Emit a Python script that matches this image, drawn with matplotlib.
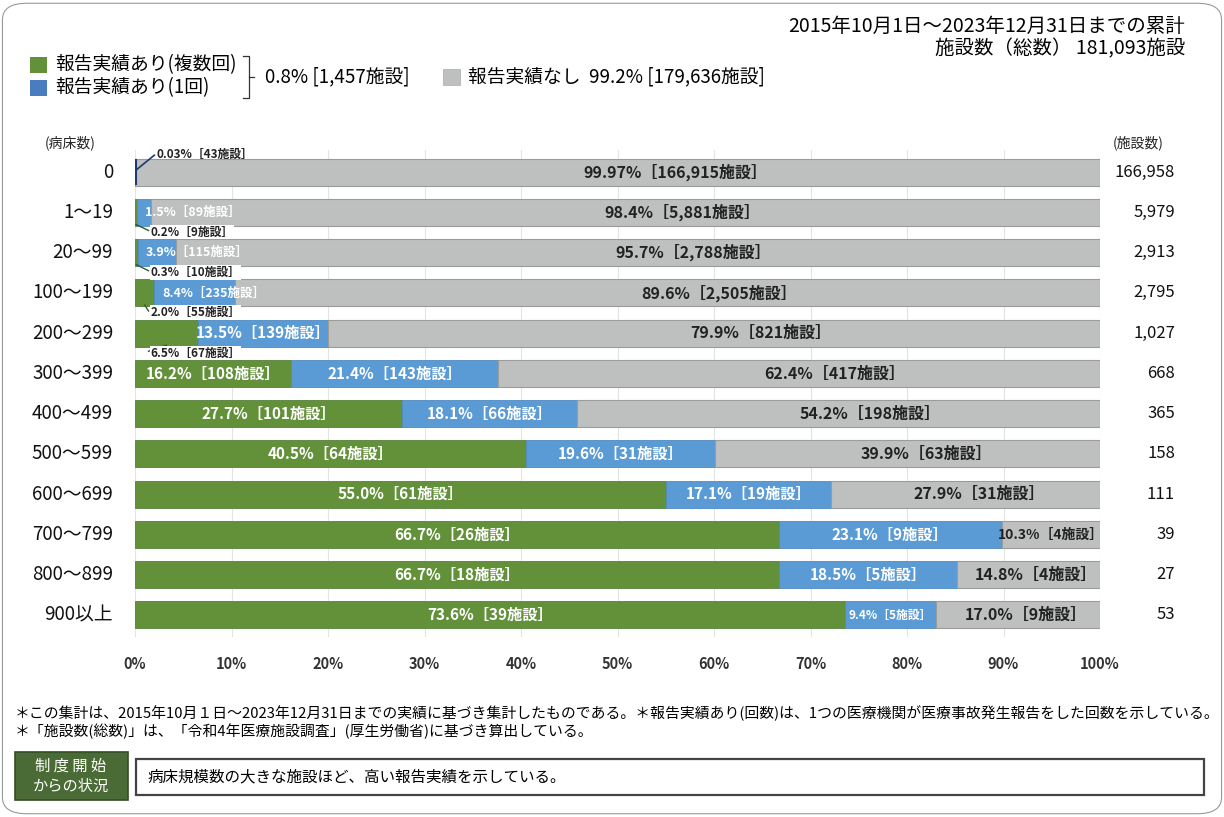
import numpy as np
import matplotlib.pyplot as plt
from matplotlib.patches import FancyBboxPatch, Rectangle

plt.rcParams['font.family'] = ['Noto Sans CJK JP', 'DejaVu Sans']

beds = ["0", "1～19", "20～99", "100～199", "200～299", "300～399", "400～499",
        "500～599", "600～699", "700～799", "800～899", "900以上"]
multi_pct = [0.0, 0.2, 0.3, 2.0, 6.5, 16.2, 27.7, 40.5, 55.0, 66.7, 66.7, 73.6]
multi_n = [0, 9, 10, 55, 67, 108, 101, 64, 61, 26, 18, 39]
single_pct = [0.03, 1.5, 3.9, 8.4, 13.5, 21.4, 18.1, 19.6, 17.1, 23.1, 18.5, 9.4]
single_n = [43, 89, 115, 235, 139, 143, 66, 31, 19, 9, 5, 5]
none_pct = [99.97, 98.4, 95.7, 89.6, 79.9, 62.4, 54.2, 39.9, 27.9, 10.3, 14.8, 17.0]
none_n = [166915, 5881, 2788, 2505, 821, 417, 198, 63, 31, 4, 4, 9]
totals = [166958, 5979, 2913, 2795, 1027, 668, 365, 158, 111, 39, 27, 53]

GREEN = "#62913a"
BLUE = "#5b9bd5"
GRAY = "#bdc0be"

W, H = 1224, 817
fig = plt.figure(figsize=(W / 100, H / 100), dpi=100)


def px(x, y):
    return x / W, 1 - y / H


ax = fig.add_axes([135 / W, 1 - 637 / H, 965 / W, 487 / H])
y = np.arange(len(beds))
mp = np.array(multi_pct)
sp = np.array(single_pct)
bh = 0.67
ax.barh(y, mp, height=bh, color=GREEN, edgecolor="#55803a", linewidth=0.6)
ax.barh(y, sp, left=mp, height=bh, color=BLUE, edgecolor="#4f8bc0", linewidth=0.6)
ax.barh(y, 100 - mp - sp, left=mp + sp, height=bh, color=GRAY, edgecolor="#9a9c9a", linewidth=0.8)

ax.set_xlim(0, 100)
ax.set_ylim(11.55, -0.55)
ax.set_xticks(np.arange(0, 101, 10))
ax.set_xticklabels([f"{v}%" for v in range(0, 101, 10)], fontsize=10.5, fontweight="bold", color="#333333")
ax.tick_params(axis="x", length=0, pad=14)
ax.set_yticks([])
for s in ax.spines.values():
    s.set_visible(False)
ax.grid(axis="x", color="#e4e4e4", linewidth=0.8)
ax.set_axisbelow(True)

for i in range(len(beds)):
    # row label and total
    fig.text(*px(113, 172 + 40.27 * i), beds[i], ha="right", va="center", fontsize=13.5, color="#111111")
    fig.text(*px(1175, 172 + 40.27 * i), f"{totals[i]:,}", ha="right", va="center", fontsize=12,
             color="#111111")

    # gray segment label
    g0 = mp[i] + sp[i]
    gw = 100 - g0
    pct = f"{none_pct[i]:.2f}%" if i == 0 else f"{none_pct[i]:.1f}%"
    if gw < 12:
        ax.text(g0 + gw / 2, i, f"{pct}［{none_n[i]:,}施設］", ha="center", va="center",
                fontsize=10, fontweight="bold", color="#222222")
    else:
        ax.text(g0 + gw * (0.56 if gw > 50 else 0.55), i, f"{pct}［{none_n[i]:,}施設］",
                ha="center", va="center", fontsize=11.5, fontweight="bold", color="#222222")

    if i == 0:
        ax.plot([0.1, 0.1], [-0.3, 0.3], color="#1f3a6e", lw=1.5)
        ax.plot([0.1, 2.0], [-0.05, -0.42], color="#1f3a6e", lw=1.2)
        ax.text(2.2, -0.43, f"{single_pct[i]:.2f}%［{single_n[i]}施設］", ha="left", va="center",
                fontsize=8.5, fontweight="bold", color="#222222")
        continue

    # green segment label
    if mp[i] >= 10:
        ax.text(mp[i] / 2, i, f"{multi_pct[i]:.1f}%［{multi_n[i]}施設］", ha="center", va="center",
                fontsize=11, fontweight="bold", color="white")
    else:
        ax.plot([max(mp[i] / 2, 0.1), 1.4], [i + 0.3, i + 0.45], color="#2e5e2a", lw=1.0)
        ax.text(1.6, i + 0.49, f"{multi_pct[i]:.1f}%［{multi_n[i]}施設］", ha="left", va="center",
                fontsize=8.5, fontweight="bold", color="#222222",
                bbox=dict(facecolor="white", edgecolor="none", pad=0.5))

    # blue segment label
    lbl = f"{single_pct[i]:.1f}%［{single_n[i]}施設］"
    if sp[i] < 10:
        if mp[i] > 10:
            ax.text(mp[i] + sp[i] / 2, i, lbl, ha="center", va="center", fontsize=8.5,
                    fontweight="bold", color="white")
        else:
            ax.text(mp[i] + 0.8, i, lbl, ha="left", va="center", fontsize=9, fontweight="bold", color="white")
    else:
        ax.text(mp[i] + sp[i] / 2, i, lbl, ha="center", va="center", fontsize=11,
                fontweight="bold", color="white")

# column headers
fig.text(*px(70, 143), "(病床数)", ha="center", va="center", fontsize=10, color="#222222")
fig.text(*px(1138, 143), "(施設数)", ha="center", va="center", fontsize=10, color="#222222")

# title block top right
fig.text(*px(1185, 26), "2015年10月1日～2023年12月31日までの累計", ha="right", va="center", fontsize=14)
fig.text(*px(1185, 49), "施設数（総数） 181,093施設", ha="right", va="center", fontsize=14)

# legend
for (yy, col, lab) in [(65, GREEN, "報告実績あり(複数回)"), (88, "#4a7cc0", "報告実績あり(1回)")]:
    fig.patches.append(Rectangle(px(30, yy + 8), 17 / W, 16 / H, transform=fig.transFigure,
                                 facecolor=col, edgecolor="none"))
    fig.text(*px(55, yy), lab, ha="left", va="center", fontsize=13.5)
fig.lines.append(plt.Line2D([px(243, 0)[0], px(249, 0)[0], px(249, 0)[0], px(243, 0)[0]],
                            [px(0, 56)[1], px(0, 56)[1], px(0, 98)[1], px(0, 98)[1]],
                            transform=fig.transFigure, color="#333333", lw=0.9))
fig.lines.append(plt.Line2D([px(249, 0)[0], px(254, 0)[0]], [px(0, 77)[1], px(0, 77)[1]],
                            transform=fig.transFigure, color="#333333", lw=0.9))
fig.text(*px(265, 77), "0.8% [1,457施設]", ha="left", va="center", fontsize=13.5)
fig.patches.append(Rectangle(px(443, 85), 17 / W, 16 / H, transform=fig.transFigure,
                             facecolor=GRAY, edgecolor="#aaaaaa", lw=0.5))
fig.text(*px(468, 77), "報告実績なし  99.2% [179,636施設]", ha="left", va="center", fontsize=13.5)

# footnotes
fig.text(*px(15, 713), "＊この集計は、2015年10月１日～2023年12月31日までの実績に基づき集計したものである。"
         "＊報告実績あり(回数)は、1つの医療機関が医療事故発生報告をした回数を示している。",
         ha="left", va="center", fontsize=10.7)
fig.text(*px(15, 731), "＊「施設数(総数)」は、「令和4年医療施設調査」(厚生労働省)に基づき算出している。",
         ha="left", va="center", fontsize=10.7)

# bottom summary box
fig.patches.append(Rectangle(px(15, 800), 113 / W, 48 / H, transform=fig.transFigure,
                             facecolor="#4a6b35", edgecolor="#334d25", lw=1.2))
fig.text(*px(71, 776), "制 度 開 始\nからの状況", ha="center", va="center", fontsize=11,
         color="white", linespacing=1.25)
fig.patches.append(Rectangle(px(136, 795), 1068 / W, 36 / H, transform=fig.transFigure,
                             facecolor="white", edgecolor="#444444", lw=1.6))
fig.text(*px(147, 777), "病床規模数の大きな施設ほど、高い報告実績を示している。", ha="left", va="center",
         fontsize=11.2)

# outer rounded frame
fig.patches.append(FancyBboxPatch((0.002, 0.004), 0.996, 0.992, boxstyle="round,pad=0,rounding_size=0.02",
                                  transform=fig.transFigure, facecolor="none", edgecolor="#999999", lw=0.8))

fig.savefig("out.png", dpi=100)
